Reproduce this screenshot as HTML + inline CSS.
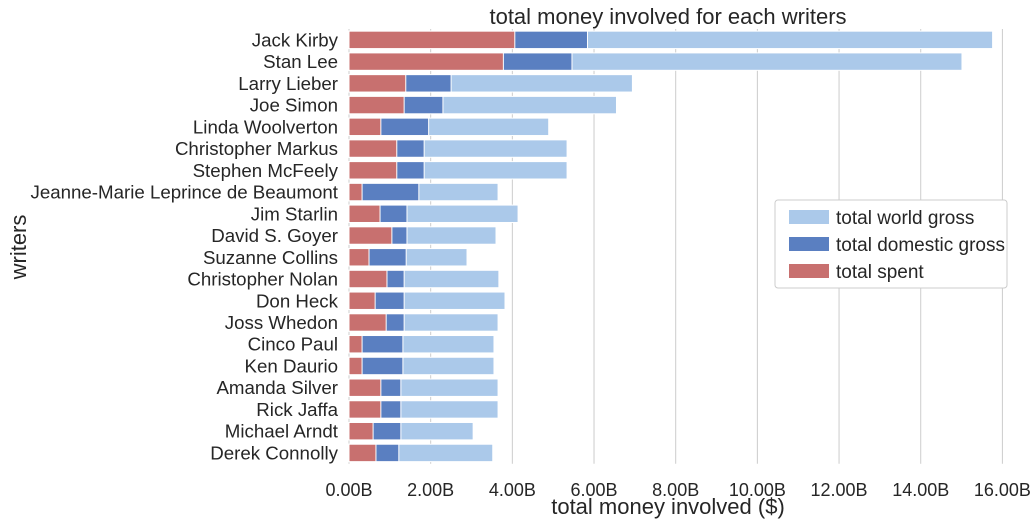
<!DOCTYPE html>
<html><head><meta charset="utf-8"><style>
body{margin:0;background:#fff;}
svg{font-family:"Liberation Sans",sans-serif;fill:#262626;}
</style></head><body>
<svg id="chart" width="1031" height="522" xmlns="http://www.w3.org/2000/svg">
<g id="grid"></g>
<g id="bars"></g>
<g id="ylabels"></g>
<g id="xlabels"></g>
<text x="668" y="24" font-size="22" text-anchor="middle">total money involved for each writers</text>
<text x="668" y="514" font-size="22" text-anchor="middle">total money involved ($)</text>
<text x="0" y="0" font-size="22" text-anchor="middle" transform="translate(26,247) rotate(-90)">writers</text>
<g>
<rect x="775" y="200" width="232" height="88" rx="3" fill="#fff" stroke="#ccc"/>
<rect x="789" y="210" width="40" height="14" fill="#abc9ea"/>
<text x="836" y="224" font-size="19">total world gross</text>
<rect x="789" y="237" width="40" height="14" fill="#5a7fc1"/>
<text x="836" y="251" font-size="19">total domestic gross</text>
<rect x="789" y="264" width="40" height="14" fill="#c8706f"/>
<text x="836" y="278" font-size="19">total spent</text>
</g>
</svg>
<script>
const writers=["Jack Kirby","Stan Lee","Larry Lieber","Joe Simon","Linda Woolverton","Christopher Markus","Stephen McFeely","Jeanne-Marie Leprince de Beaumont","Jim Starlin","David S. Goyer","Suzanne Collins","Christopher Nolan","Don Heck","Joss Whedon","Cinco Paul","Ken Daurio","Amanda Silver","Rick Jaffa","Michael Arndt","Derek Connolly"];
const worldGross=[15.76,15.01,6.94,6.55,4.89,5.34,5.34,3.65,4.14,3.60,2.89,3.67,3.82,3.65,3.55,3.55,3.65,3.65,3.04,3.52];
const domesticGross=[5.84,5.46,2.50,2.30,1.95,1.84,1.84,1.71,1.42,1.42,1.40,1.35,1.35,1.35,1.32,1.32,1.27,1.27,1.27,1.22];
const totalSpent=[4.06,3.78,1.39,1.35,0.78,1.17,1.17,0.32,0.76,1.05,0.49,0.93,0.64,0.91,0.32,0.32,0.78,0.78,0.59,0.66];
const xTicks=[0,2,4,6,8,10,12,14,16];
const xTickLabels=["0.00B","2.00B","4.00B","6.00B","8.00B","10.00B","12.00B","14.00B","16.00B"];
const NS="http://www.w3.org/2000/svg";
const x0=349,x1=1022,xmax=16.48,yTop=29,step=21.74;
function xs(v){return x0+(v/xmax)*(x1-x0);}
function yc(i){return yTop+step*(i+0.5);}
function mk(tag,attrs,parent){const e=document.createElementNS(NS,tag);for(const k in attrs)e.setAttribute(k,attrs[k]);parent.appendChild(e);return e;}
const grid=document.getElementById('grid'),bars=document.getElementById('bars'),yl=document.getElementById('ylabels'),xl=document.getElementById('xlabels');
xTicks.forEach((t,i)=>{
 const l=mk('line',{x1:xs(t),x2:xs(t),y1:yTop,y2:yTop+step*writers.length,stroke:'#cccccc','stroke-width':1},grid);
 
 
 const tx=mk('text',{x:xs(t),y:496,'font-size':18,'text-anchor':'middle'},xl);
 
 
 tx.textContent=xTickLabels[i];
});
const bh=17.4;
writers.forEach((w,i)=>{
 const y=yc(i)-bh/2;
 const a=mk('rect',{x:x0,y:y,width:xs(worldGross[i])-x0,height:bh,fill:'#abc9ea',stroke:'#fff','stroke-width':1},bars);
 
 
 const b=mk('rect',{x:x0,y:y,width:xs(domesticGross[i])-x0,height:bh,fill:'#5a7fc1',stroke:'#fff','stroke-width':1},bars);
 
 
 const c=mk('rect',{x:x0,y:y,width:xs(totalSpent[i])-x0,height:bh,fill:'#c8706f',stroke:'#fff','stroke-width':1},bars);
 
 
 const t=mk('text',{x:338,y:yc(i)+6.5,'font-size':18.7,'text-anchor':'end'},yl);
 
 
 t.textContent=w;
});
</script>
</body></html>
